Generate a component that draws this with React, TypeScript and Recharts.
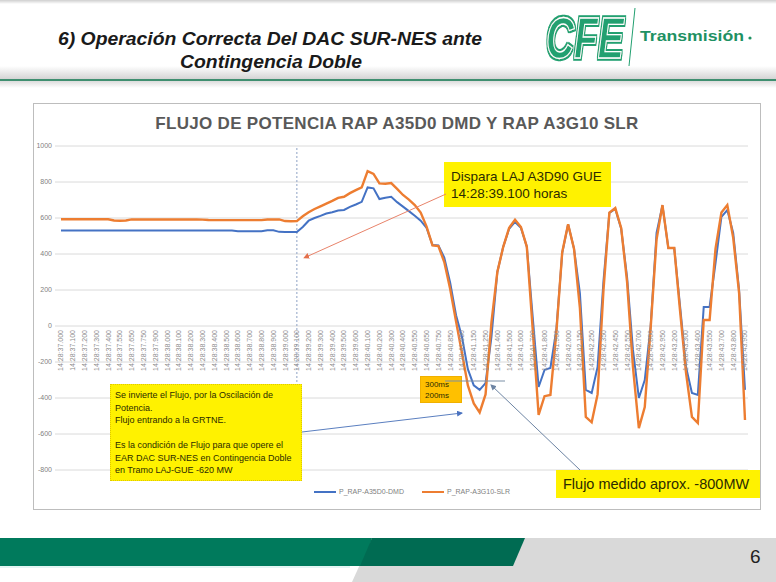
import { LineChart, Line, XAxis, YAxis, CartesianGrid, Legend, ReferenceLine } from 'recharts'

// sample times (14:28:ss.mmm), one label shown every second point
const TIMES = [
  '37.000', '37.050', '37.100', '37.150', '37.200', '37.250', '37.300', '37.350', '37.400', '37.500',
  '37.550', '37.600', '37.650', '37.700', '37.750', '37.850', '37.900', '37.950', '38.000', '38.050',
  '38.100', '38.150', '38.200', '38.250', '38.300', '38.350', '38.400', '38.450', '38.500', '38.550',
  '38.600', '38.650', '38.700', '38.750', '38.800', '38.850', '38.900', '38.950', '39.000', '39.050',
  '39.100', '39.150', '39.200', '39.250', '39.300', '39.350', '39.400', '39.450', '39.500', '39.550',
  '39.600', '40.050', '40.100', '40.150', '40.200', '40.250', '40.300', '40.350', '40.400', '40.500',
  '40.550', '40.600', '40.650', '40.700', '40.750', '40.800', '40.850', '40.950', '41.050', '41.100',
  '41.150', '41.200', '41.250', '41.350', '41.400', '41.450', '41.500', '41.550', '41.600', '41.650',
  '41.700', '41.750', '41.800', '41.850', '41.900', '41.950', '42.000', '42.100', '42.150', '42.200',
  '42.250', '42.300', '42.350', '42.400', '42.450', '42.500', '42.550', '42.650', '42.700', '42.750',
  '42.800', '42.900', '42.950', '43.050', '43.200', '43.250', '43.300', '43.350', '43.400', '43.500',
  '43.550', '43.650', '43.700', '43.750', '43.800', '43.900', '43.950',
]

// P_RAP-A35D0-DMD (MW)
const DMD = [
  531, 531, 531, 531, 531, 531, 531, 531, 531, 531,
  531, 531, 531, 531, 531, 531, 531, 531, 531, 531,
  531, 531, 531, 531, 531, 530, 530, 530, 530, 530,
  527, 527, 527, 527, 527, 532, 532, 523, 522, 522,
  522, 550, 585, 600, 612, 625, 632, 642, 645, 662,
  675, 690, 770, 765, 705, 712, 718, 688, 663, 638,
  612, 585, 545, 450, 448, 380, 240, 60, -61, -240,
  -330, -355, -317, -60, 300, 440, 540, 578, 545, 440,
  50, -339, -244, -233, -22, 405, 565, 430, 183, -355,
  -372, -228, 250, 628, 650, 540, 272, -133, -400, -300,
  0, 517, 670, 433, 433, 106, -228, -372, -383, 106,
  106, 350, 606, 644, 517, 200, -355,
]

// P_RAP-A3G10-SLR (MW)
const SLR = [
  593, 593, 593, 593, 593, 593, 593, 593, 593, 586,
  585, 586, 592, 592, 592, 592, 592, 592, 592, 592,
  592, 592, 592, 592, 591, 589, 588, 588, 588, 588,
  588, 588, 588, 588, 588, 592, 592, 592, 583, 582,
  583, 610, 632, 650, 665, 680, 695, 712, 718, 738,
  755, 770, 860, 845, 792, 790, 794, 762, 728, 702,
  672, 630, 552, 448, 444, 355, 205, 25, -150, -330,
  -430, -480, -380, 20, 300, 440, 545, 590, 550, 440,
  -20, -494, -390, -383, -40, 410, 565, 430, 100, -505,
  -535, -380, 200, 630, 655, 545, 245, -228, -567, -450,
  -10, 480, 672, 433, 433, 80, -260, -505, -539, 33,
  33, 430, 630, 672, 490, 183, -522,
]

const Y_TICKS = [-800, -600, -400, -200, 0, 200, 400, 600, 800, 1000]
const TRIP_TIME = '39.100'

const data = TIMES.map((t, i) => ({ t, dmd: DMD[i], slr: SLR[i] }))

const FONT = '"Liberation Sans", Arial, sans-serif'
const Y_MIN = -800
const Y_MAX = 1000
const PLOT_TOP = 43
const PLOT_H = 324
const ZERO_Y = PLOT_TOP + (Y_MAX / (Y_MAX - Y_MIN)) * PLOT_H

function TimeTick({ x, payload }: any) {
  const y = ZERO_Y + 4
  return (
    <text
      x={x}
      y={y}
      transform={`rotate(-90 ${x} ${y})`}
      textAnchor="end"
      dy="0.35em"
      fontSize={7}
      fontFamily={FONT}
      fill="#8c8c8c"
    >
      {`14:28:${payload.value}`}
    </text>
  )
}

function LegendContent({ payload }: any) {
  return (
    <div style={{ display: 'flex', justifyContent: 'center', gap: 18, paddingLeft: 30, fontSize: 7, color: '#7f7f7f', fontFamily: FONT }}>
      {(payload || []).map((p: any) => (
        <div key={p.value} style={{ display: 'flex', alignItems: 'center' }}>
          <span style={{ display: 'inline-block', width: 22, height: 2, background: p.color, marginRight: 3 }} />
          {p.value}
        </div>
      ))}
    </div>
  )
}

const yellowBox = { position: 'absolute' as const, background: '#fff200', color: '#2b2b00', fontFamily: FONT, boxSizing: 'border-box' as const }

export default function App() {
  return (
    <div style={{ position: 'absolute', left: 0, top: 0, width: 776, height: 582, background: '#fff', overflow: 'hidden', fontFamily: FONT }}>
      {/* slide header */}
      <div style={{ position: 'absolute', left: 0, top: 0, width: 776, height: 4, background: 'linear-gradient(#cfcfcf, #fff)' }} />
      <div style={{ position: 'absolute', left: 0, top: 66, width: 776, height: 13, background: 'linear-gradient(#fff, #d4d4d4)' }} />
      <div style={{ position: 'absolute', left: 0, top: 79, width: 776, height: 2, background: '#3f8f70' }} />
      <div style={{ position: 'absolute', left: 0, top: 81, width: 776, height: 7, background: 'linear-gradient(#dcdcdc, #fff)' }} />

      {/* footer, title, logo */}
      <svg style={{ position: 'absolute', left: 0, top: 0 }} width={776} height={582}>
        <defs>
          <filter id="cfeOutline" x="-10%" y="-10%" width="120%" height="120%">
            <feMorphology in="SourceAlpha" operator="dilate" radius="1.8" result="fat" />
            <feFlood floodColor="#22a070" />
            <feComposite in2="fat" operator="in" result="outline" />
            <feMerge>
              <feMergeNode in="outline" />
              <feMergeNode in="SourceGraphic" />
            </feMerge>
          </filter>
        </defs>
        <polygon points="352,582 372,538 776,538 776,582" fill="#d9d9d9" />
        <polygon points="0,538 372,538 364,566 0,566" fill="#007a5c" />
        <polygon points="372,538 525,538 513,566 360,566" fill="#006b52" />
        <line x1={0} y1={567} x2={350} y2={567} stroke="#c9ece8" strokeWidth={1} />
        <text x={750} y={563} fontSize={19} fill="#222" fontFamily={FONT}>6</text>

        <text x={58} y={45} fontSize={18} fontWeight="bold" fontStyle="italic" fill="#1a1a1a" textLength={424} lengthAdjust="spacingAndGlyphs" fontFamily={FONT}>
          6) Operación Correcta Del DAC SUR-NES ante
        </text>
        <text x={180} y={68} fontSize={18} fontWeight="bold" fontStyle="italic" fill="#1a1a1a" textLength={182} lengthAdjust="spacingAndGlyphs" fontFamily={FONT}>
          Contingencia Doble
        </text>

        <g transform="translate(546 58) scale(0.67 1)">
          <text x={0} y={0} fontSize={58} fontWeight="bold" fontStyle="italic" fill="#22a070" stroke="#fff" strokeWidth={1.3} filter="url(#cfeOutline)" fontFamily={FONT}>CFE</text>
        </g>
        <line x1={635} y1={8} x2={629} y2={66} stroke="#22a070" strokeWidth={1} />
        <text x={640} y={41} fontSize={15.5} fontWeight="bold" fill="#1e9163" textLength={104} lengthAdjust="spacingAndGlyphs" fontFamily={FONT}>Transmisión</text>
        <circle cx={750} cy={38} r={1.6} fill="#1e9163" />
      </svg>

      {/* chart frame */}
      <div style={{ position: 'absolute', left: 33, top: 103, width: 728, height: 407, border: '1px solid #bdbdbd', boxSizing: 'border-box', background: '#fff' }} />
      <div style={{ position: 'absolute', left: 33, top: 114, width: 728, textAlign: 'center', fontSize: 17, letterSpacing: 0.3, fontWeight: 'bold', color: '#595959', fontFamily: FONT }}>
        FLUJO DE POTENCIA RAP A35D0 DMD Y RAP A3G10 SLR
      </div>

      <div style={{ position: 'absolute', left: 33, top: 103 }}>
        <LineChart width={728} height={407} data={data} margin={{ top: PLOT_TOP, right: 13, left: 0, bottom: 39 }}>
          <CartesianGrid vertical={false} stroke="#dadada" />
          <XAxis
            dataKey="t"
            interval={1}
            height={1}
            tickLine={false}
            axisLine={false}
            padding={{ left: 6, right: 3 }}
            tick={(props: any) => <TimeTick {...props} />}
          />
          <YAxis
            domain={[Y_MIN, Y_MAX]}
            ticks={Y_TICKS}
            width={22}
            tickSize={0}
            tickMargin={3}
            axisLine={false}
            tickLine={false}
            tick={{ fontSize: 7, fill: '#7f7f7f', fontFamily: FONT }}
          />
          <ReferenceLine x={TRIP_TIME} stroke="#8ea2c4" strokeDasharray="2 2" strokeWidth={1} />
          <Line type="linear" dataKey="dmd" name="P_RAP-A35D0-DMD" stroke="#4472c4" strokeWidth={2} dot={false} legendType="plainline" isAnimationActive={false} />
          <Line type="linear" dataKey="slr" name="P_RAP-A3G10-SLR" stroke="#ed7d31" strokeWidth={2.4} dot={false} legendType="plainline" isAnimationActive={false} />
          <Legend layout="horizontal" verticalAlign="middle" align="center" wrapperStyle={{ top: 385, left: 0, width: 728 }} content={<LegendContent />} />
        </LineChart>
      </div>

      {/* annotations */}
      <div style={{ ...yellowBox, left: 444, top: 162, width: 167, height: 45, padding: '6px 0 0 7px', fontSize: 13.5, lineHeight: '17px' }}>
        Dispara LAJ A3D90 GUE
        <br />
        14:28:39.100 horas
      </div>
      <div style={{ ...yellowBox, left: 110, top: 384, width: 192, height: 97, padding: '4px 0 0 4px', fontSize: 9, lineHeight: '12.5px', border: '1px dotted #e0c800', whiteSpace: 'nowrap' }}>
        Se invierte el Flujo, por la Oscilación de
        <br />
        Potencia.
        <br />
        Flujo entrando a la GRTNE.
        <br />
        <br />
        Es la condición de Flujo para que opere el
        <br />
        EAR DAC SUR-NES en Contingencia Doble
        <br />
        en Tramo LAJ-GUE -620 MW
      </div>
      <div style={{ ...yellowBox, background: '#ffc000', left: 420, top: 376, width: 42, height: 27, padding: '2px 0 0 4px', fontSize: 8, lineHeight: '11px', border: '1px solid #f0b000' }}>
        300ms
        <br />
        200ms
      </div>
      <div style={{ ...yellowBox, left: 556, top: 470, width: 204, height: 28, paddingLeft: 7, fontSize: 14.5, lineHeight: '28px', whiteSpace: 'nowrap' }}>
        Flujo medido aprox. -800MW
      </div>

      <svg style={{ position: 'absolute', left: 0, top: 0, pointerEvents: 'none' }} width={776} height={582}>
        <defs>
          <marker id="arrA" markerWidth="6" markerHeight="6" refX="3" refY="3" orient="auto">
            <path d="M0,0 L6,3 L0,6 z" fill="#e4704c" />
          </marker>
          <marker id="arrB" markerWidth="6" markerHeight="6" refX="5" refY="3" orient="auto">
            <path d="M0,0 L6,3 L0,6 z" fill="#4a72c0" />
          </marker>
          <marker id="arrD" markerWidth="6" markerHeight="6" refX="5" refY="3" orient="auto">
            <path d="M0,0 L6,3 L0,6 z" fill="#6d84a3" />
          </marker>
        </defs>
        <line x1={446} y1={194} x2={306} y2={257} stroke="#e8836a" strokeWidth={1} markerEnd="url(#arrA)" />
        <line x1={302} y1={432} x2={462} y2={413} stroke="#5b7fc0" strokeWidth={1} markerEnd="url(#arrB)" />
        <line x1={445} y1={381} x2={505} y2={381} stroke="#7a8fa6" strokeWidth={1} />
        <line x1={580} y1={470} x2={491} y2={385} stroke="#6d84a3" strokeWidth={1} markerEnd="url(#arrD)" />
      </svg>
    </div>
  )
}
